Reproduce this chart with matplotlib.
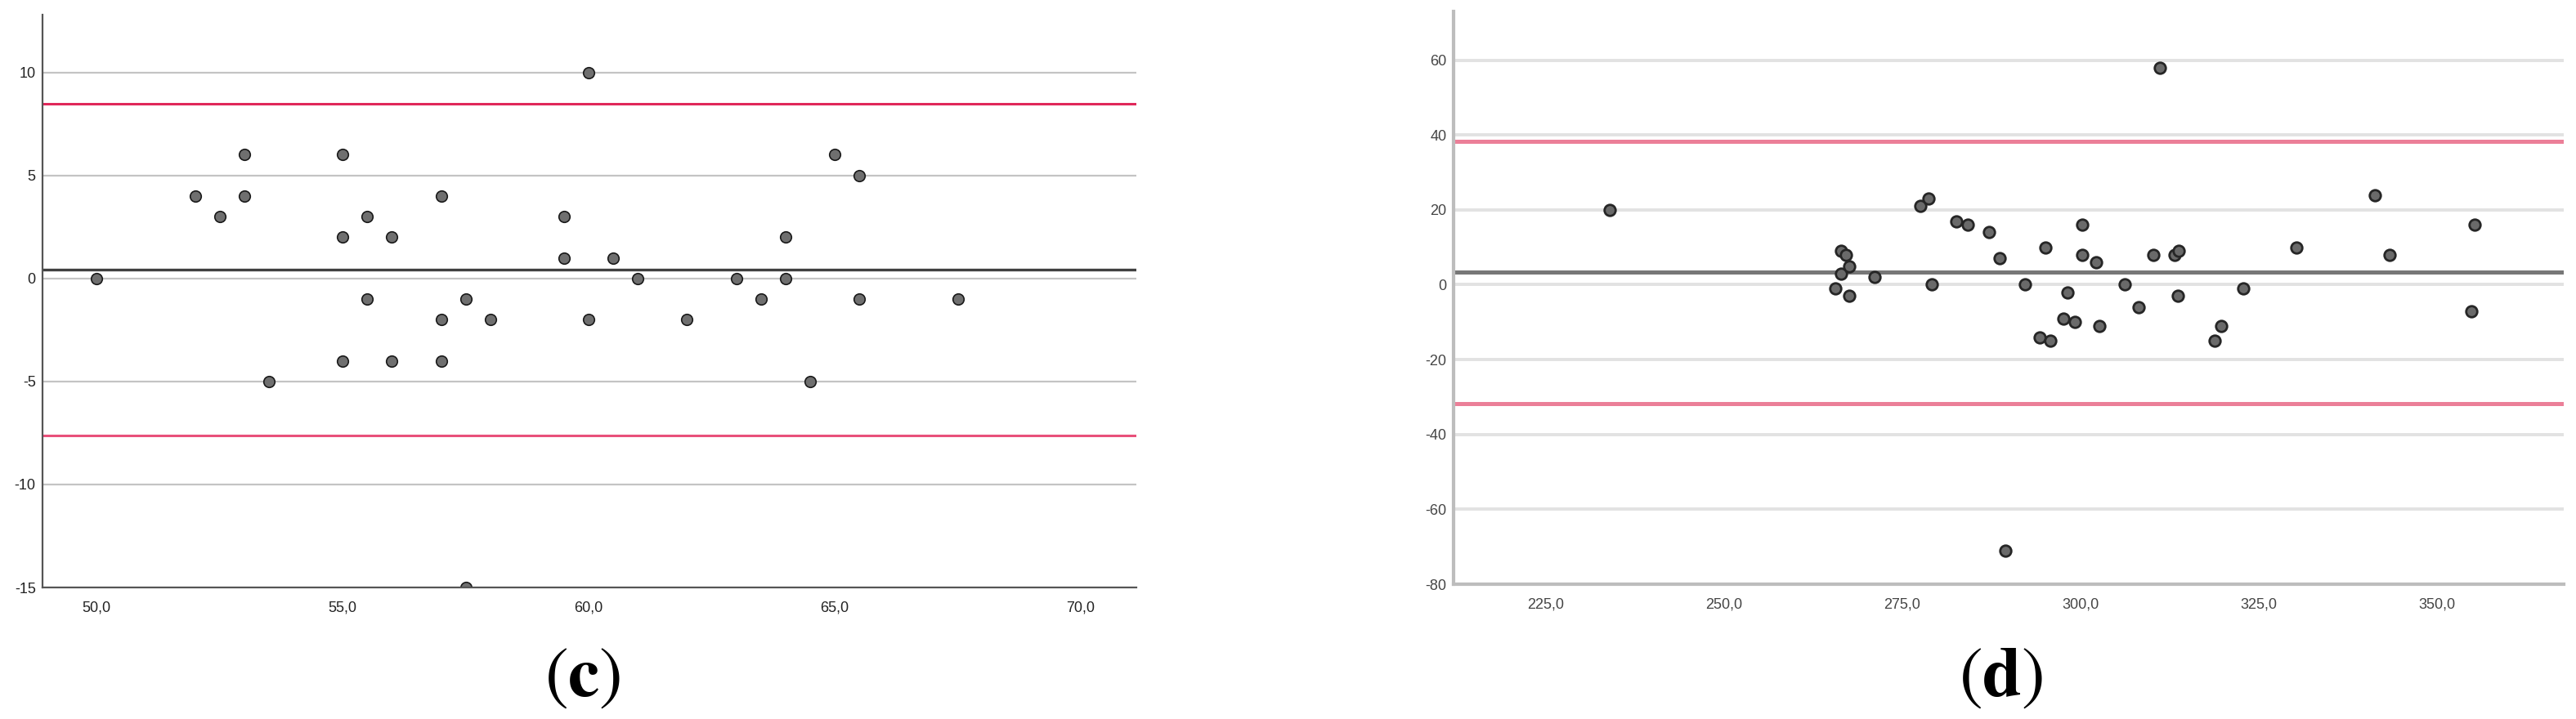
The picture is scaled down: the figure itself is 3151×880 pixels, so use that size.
import matplotlib
matplotlib.use("Agg")
import matplotlib.pyplot as plt

plt.rcParams['font.family'] = ['Liberation Sans', 'DejaVu Sans']
plt.rcParams['mathtext.fontset'] = 'stix'

# ---------------- Panel (c) data ----------------
c_mean = [50, 52, 52.5, 53, 53, 53.5, 55, 55, 55, 55.5, 55.5, 56, 56, 57, 57, 57,
          57.5, 57.5, 58, 59.5, 59.5, 60, 60, 60.5, 61, 62, 63, 63.5, 64, 64, 64.5,
          65, 65.5, 65.5, 67.5]
c_diff = [0, 4, 3, 6, 4, -5, 6, 2, -4, 3, -1, 2, -4, 4, -2, -4,
          -1, -15, -2, 3, 1, 10, -2, 1, 0, -2, 0, -1, 0, 2, -5,
          6, 5, -1, -1]
c_bias = 0.43
c_upper = 8.46
c_lower = -7.62
c_xticks = [50, 55, 60, 65, 70]
c_xticklabels = ['50,0', '55,0', '60,0', '65,0', '70,0']
c_yticks = [10, 5, 0, -5, -10, -15]
c_yticklabels = ['10', '5', '0', '-5', '-10', '-15']

# ---------------- Panel (d) data ----------------
d_mean = [234, 265.6, 266.5, 266.5, 267.1, 267.6, 267.6, 271.1, 277.6, 278.7, 279.2,
          282.6, 284.2, 287.2, 288.7, 289.5, 292.2, 294.3, 295.1, 295.8, 297.6, 298.2,
          299.2, 300.3, 300.3, 302.2, 302.7, 306.2, 308.2, 310.2, 311.2, 313.2, 313.8,
          313.7, 318.8, 319.8, 322.9, 330.3, 341.3, 343.4, 354.8, 355.3]
d_diff = [20, -1, 9, 3, 8, 5, -3, 2, 21, 23, 0,
          17, 16, 14, 7, -71, 0, -14, 10, -15, -9, -2,
          -10, 16, 8, 6, -11, 0, -6, 8, 58, 8, 9,
          -3, -15, -11, -1, 10, 24, 8, -7, 16]
d_bias = 3.4
d_upper = 38.4
d_lower = -31.7
d_xticks = [225, 250, 275, 300, 325, 350]
d_xticklabels = ['225,0', '250,0', '275,0', '300,0', '325,0', '350,0']
d_yticks = [60, 40, 20, 0, -20, -40, -60, -80]
d_yticklabels = ['60', '40', '20', '0', '-20', '-40', '-60', '-80']

W, H = 3151, 880
fig = plt.figure(figsize=(W / 100, H / 100), dpi=100)

def px_axes(left, top, right, bottom):
    return fig.add_axes([left / W, 1 - bottom / H, (right - left) / W, (bottom - top) / H])

# ---------------- Panel (c) ----------------
ax1 = px_axes(52, 18, 1390, 719)
ax1.set_xlim(48.9, 71.13)
ax1.set_ylim(-15, 12.8)
for yv in c_yticks[:-1]:
    ax1.axhline(yv, color='#c4c4c4', lw=1.6, zorder=1)
ax1.axhline(c_upper, color='#e0285a', lw=2.2, zorder=2)
ax1.axhline(c_lower, color='#e8507a', lw=2.2, zorder=2)
ax1.axhline(c_bias, color='#404040', lw=2.4, zorder=2)
ax1.scatter(c_mean, c_diff, s=95, facecolor='#6f6f6f', edgecolor='#1a1a1a',
            linewidth=1.2, zorder=3)
for s in ['top', 'right']:
    ax1.spines[s].set_visible(False)
for s in ['left', 'bottom']:
    ax1.spines[s].set_color('#555555')
    ax1.spines[s].set_linewidth(1.6)
    ax1.spines[s].set_zorder(4)
ax1.set_xticks(c_xticks)
ax1.set_xticklabels(c_xticklabels)
ax1.set_yticks(c_yticks)
ax1.set_yticklabels(c_yticklabels)
ax1.tick_params(axis='both', length=0, labelsize=13, colors='#222222')
ax1.tick_params(axis='x', pad=12)
ax1.tick_params(axis='y', pad=6)

# ---------------- Panel (d) ----------------
ax2 = px_axes(1778, 14, 3136, 715)
ax2.set_xlim(212.1, 367.8)
ax2.set_ylim(-80, 73)
for yv in d_yticks[:-1]:
    ax2.axhline(yv, color='#e2e2e2', lw=2.8, zorder=1)
ax2.axhline(d_upper, color='#eb7f98', lw=3.6, zorder=2)
ax2.axhline(d_lower, color='#eb7f98', lw=3.6, zorder=2)
ax2.axhline(d_bias, color='#777777', lw=3.6, zorder=2)
ax2.scatter(d_mean, d_diff, s=95, facecolor='#6a6a6a', edgecolor='#262626',
            linewidth=2.0, zorder=3)
for s in ['top', 'right']:
    ax2.spines[s].set_visible(False)
for s in ['left', 'bottom']:
    ax2.spines[s].set_color('#bdbdbd')
    ax2.spines[s].set_linewidth(3.0)
    ax2.spines[s].set_zorder(4)
ax2.set_xticks(d_xticks)
ax2.set_xticklabels(d_xticklabels)
ax2.set_yticks(d_yticks)
ax2.set_yticklabels(d_yticklabels)
ax2.tick_params(axis='both', length=0, labelsize=13, colors='#444444')
ax2.tick_params(axis='x', pad=12)
ax2.tick_params(axis='y', pad=6)

# ---------------- Captions ----------------
fig.text(713 / W, 1 - 830 / H, r'$(\mathbf{c})$', ha='center', va='center', fontsize=62, color='black')
fig.text(2448 / W, 1 - 830 / H, r'$(\mathbf{d})$', ha='center', va='center', fontsize=62, color='black')

fig.savefig('out.png', dpi=100, facecolor='white')
